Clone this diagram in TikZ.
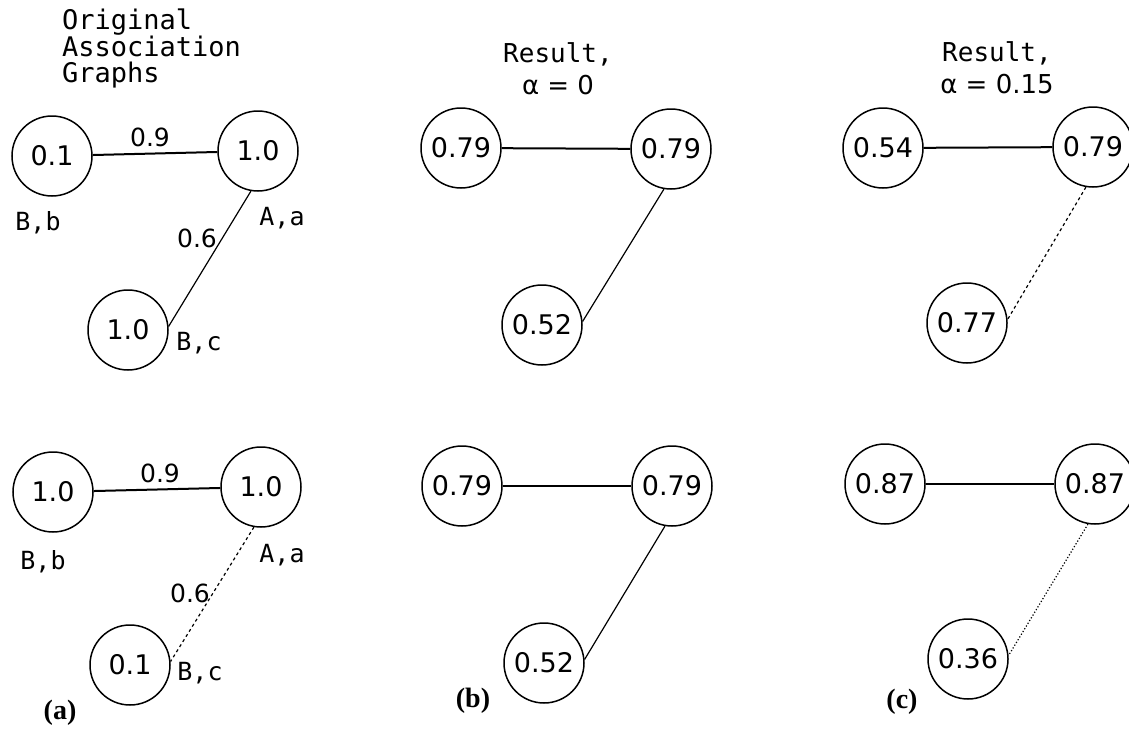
\documentclass[tikz,border=0pt]{standalone}
\usepackage{fontspec}
\setmainfont{DejaVu Sans}
\newfontfamily\wordfont{DejaVu Sans Mono}
\newfontfamily\capfont{Liberation Serif}
\begin{document}
\begin{tikzpicture}[x=1pt,y=-1pt,
  val/.style={circle, draw, line width=1.5pt, minimum size=80pt, inner sep=0pt,
              font=\fontsize{27}{27}\selectfont},
  lbl/.style={inner sep=0pt, font=\fontsize{25}{25}\selectfont},
  wlbl/.style={inner sep=0pt, font=\wordfont\fontsize{25}{25}\selectfont},
  ttl/.style={inner sep=0pt, align=center, font=\wordfont\fontsize{26}{32}\selectfont},
  panel/.style={inner sep=0pt, font=\capfont\bfseries\fontsize{28}{28}\selectfont},
  hedge/.style={line width=2pt},
  dedge/.style={line width=1.2pt}]
\useasboundingbox (0,0) rectangle (1129,728);
\clip (0,0) rectangle (1129,728);

% ---------- titles ----------
\node[ttl, align=left, anchor=north west, font=\wordfont\fontsize{27}{26.5}\selectfont] (t1) at (62,9) {Original\\Association\\Graphs};
\node[ttl] (t2) at (558,69) {Result,\\{\normalfont α = 0}};
\node[ttl] (t3) at (997,68) {Result,\\{\normalfont α = 0.15}};

% ---------- (a) top ----------
\node[val] (a1b) at (52,156) {0.1};
\node[val] (a1a) at (258,151) {1.0};
\node[val] (a1c) at (128,330) {1.0};
\draw[hedge] (a1b) -- (a1a);
\draw[dedge] (a1a.-100) -- (a1c.5);
\node[lbl] (a1w) at (150,137) {0.9};
\node[lbl] (a1s) at (197,238) {0.6};
\node[wlbl] (a1bl) at (38,223) {B,b};
\node[wlbl] (a1al) at (282,218) {A,a};
\node[wlbl] (a1cl) at (199,343) {B,c};

% ---------- (a) bottom ----------
\node[val] (a2b) at (53,492) {1.0};
\node[val] (a2a) at (261,487) {1.0};
\node[val] (a2c) at (130,665) {0.1};
\draw[hedge] (a2b) -- (a2a);
\draw[dedge, dashed] (a2a.-100) -- (a2c.5);
\node[lbl] (a2w) at (160,473) {0.9};
\node[lbl] (a2s) at (190,593) {0.6};
\node[wlbl] (a2bl) at (43,562) {B,b};
\node[wlbl] (a2al) at (282,555) {A,a};
\node[wlbl] (a2cl) at (200,673) {B,c};

% ---------- (b) top ----------
\node[val] (b1l) at (461,148) {0.79};
\node[val] (b1r) at (671,149) {0.79};
\node[val] (b1d) at (542,325) {0.52};
\draw[hedge] (b1l) -- (b1r);
\draw[dedge] (b1r.-100) -- (b1d.5);

% ---------- (b) bottom ----------
\node[val] (b2l) at (462,486) {0.79};
\node[val] (b2r) at (672,486) {0.79};
\node[val] (b2d) at (544,663) {0.52};
\draw[hedge] (b2l) -- (b2r);
\draw[dedge] (b2r.-100) -- (b2d.5);

% ---------- (c) top ----------
\node[val] (c1l) at (883,148) {0.54};
\node[val] (c1r) at (1093,147) {0.79};
\node[val] (c1d) at (967,323) {0.77};
\draw[hedge] (c1l) -- (c1r);
\draw[dedge, dashed] (c1r.-100) -- (c1d.5);

% ---------- (c) bottom ----------
\node[val] (c2l) at (885,484) {0.87};
\node[val] (c2r) at (1095,484) {0.87};
\node[val] (c2d) at (968,659) {0.36};
\draw[hedge] (c2l) -- (c2r);
\draw[dedge, dotted] (c2r.-100) -- (c2d.5);

% ---------- panel letters ----------
\node[panel] (pa) at (60,713) {(a)};
\node[panel] (pb) at (473,701) {(b)};
\node[panel] (pc) at (902,702) {(c)};
\end{tikzpicture}
\end{document}
